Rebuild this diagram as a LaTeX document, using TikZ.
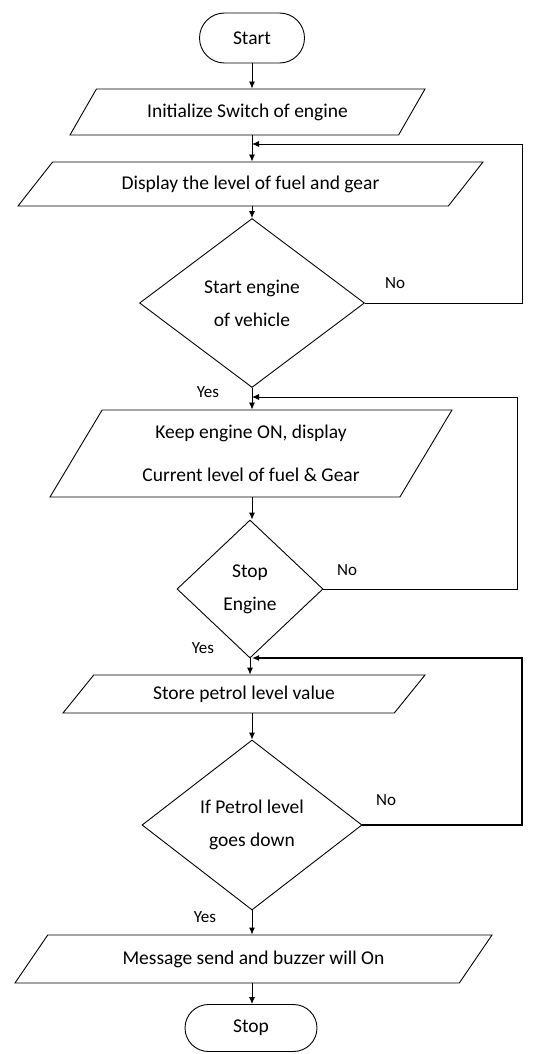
\documentclass[tikz,border=0pt]{standalone}
\usepackage{fontspec}
\setmainfont{Carlito}
\usetikzlibrary{arrows.meta,shapes.geometric,shapes.misc}

\begin{document}
\begin{tikzpicture}[
    x=1pt, y=-1pt,
    every node/.style={font=\fontsize{19.5}{24}\selectfont},
    term/.style={draw, rounded rectangle, inner sep=0pt, line width=0.9pt},
    io/.style={draw, trapezium, trapezium stretches body, inner sep=0pt,
               align=center, line width=0.9pt},
    decision/.style={draw, diamond, inner sep=0pt, align=center, line width=0.9pt},
    flow/.style={draw, -{Latex[length=7pt,width=6pt]}, line width=0.9pt},
    answer/.style={font=\fontsize{17}{20}\selectfont}
  ]
    \useasboundingbox (0,0) rectangle (538,1054);

    \node[term, minimum width=105pt, minimum height=50pt] (start) at (252,38) {Start};
    \node[io, minimum width=355pt, minimum height=46pt,
          trapezium left angle=32.6, trapezium right angle=147.4] (init) at (247.5,112)
          {Initialize Switch of engine};
    \node[io, minimum width=465pt, minimum height=44pt,
          trapezium left angle=26, trapezium right angle=154] (display) at (250.5,184)
          {Display the level of fuel and gear};
    \node[decision, minimum width=225pt, minimum height=169pt] (engine) at (252,303)
          {Start engine\\[9pt]of vehicle};
    \node[io, minimum width=402pt, minimum height=87pt,
          trapezium left angle=47.4, trapezium right angle=132.6] (keep) at (251,453.5)
          {Keep engine ON, display\\[19pt]Current level of fuel \& Gear};
    \node[decision, minimum width=146pt, minimum height=138pt] (stopeng) at (250,589)
          {Stop\\[9pt]Engine};
    \node[io, minimum width=362pt, minimum height=38pt,
          trapezium left angle=28.5, trapezium right angle=151.5] (store) at (244,694)
          {Store petrol level value};
    \node[decision, minimum width=220pt, minimum height=170pt] (petrol) at (252,825)
          {If Petrol level\\[9pt]goes down};
    \node[io, minimum width=477pt, minimum height=48pt,
          trapezium left angle=27.3, trapezium right angle=152.7] (msg) at (253.5,959)
          {Message send and buzzer will On};
    \node[term, minimum width=132pt, minimum height=47pt] (stop) at (251,1028) {Stop};

    \coordinate (rside) at (522,0);
    \coordinate (rside2) at (517,0);
    \coordinate (j1) at (252,144);
    \coordinate (j2) at (252,397);
    \coordinate (j3) at (252,658);

    \draw[flow] (start.south) -- (start.south |- init.north);
    \draw[flow] (start.south |- init.south) -- (start.south |- display.north);
    \draw[flow] (start.south |- display.south) -- (engine.north);
    \draw[flow] (engine.south) -- (engine.south |- keep.north);
    \draw[flow] (engine.south |- keep.south) -- (engine.south |- stopeng.north);
    \draw[flow] (stopeng.south) -- (stopeng.south |- store.north);
    \draw[flow] (petrol.north |- store.south) -- (petrol.north);
    \draw[flow] (petrol.south) -- (petrol.south |- msg.north);
    \draw[flow] (petrol.south |- msg.south) -- (petrol.south |- stop.north);

    \draw[flow] (engine.east) -- (engine.east -| rside) |- (j1);
    \draw[flow] (stopeng.east) -- (stopeng.east -| rside2) |- (j2);
    \draw[flow, line width=1.4pt] (petrol.east) -- (petrol.east -| rside) |- (j3);

    \node[answer] at (395,283) {No};
    \node[answer] at (347,570) {No};
    \node[answer] at (386,800) {No};
    \node[answer] at (208,392) {Yes};
    \node[answer] at (203,648) {Yes};
    \node[answer] at (205,917) {Yes};
  \end{tikzpicture}
\end{document}
